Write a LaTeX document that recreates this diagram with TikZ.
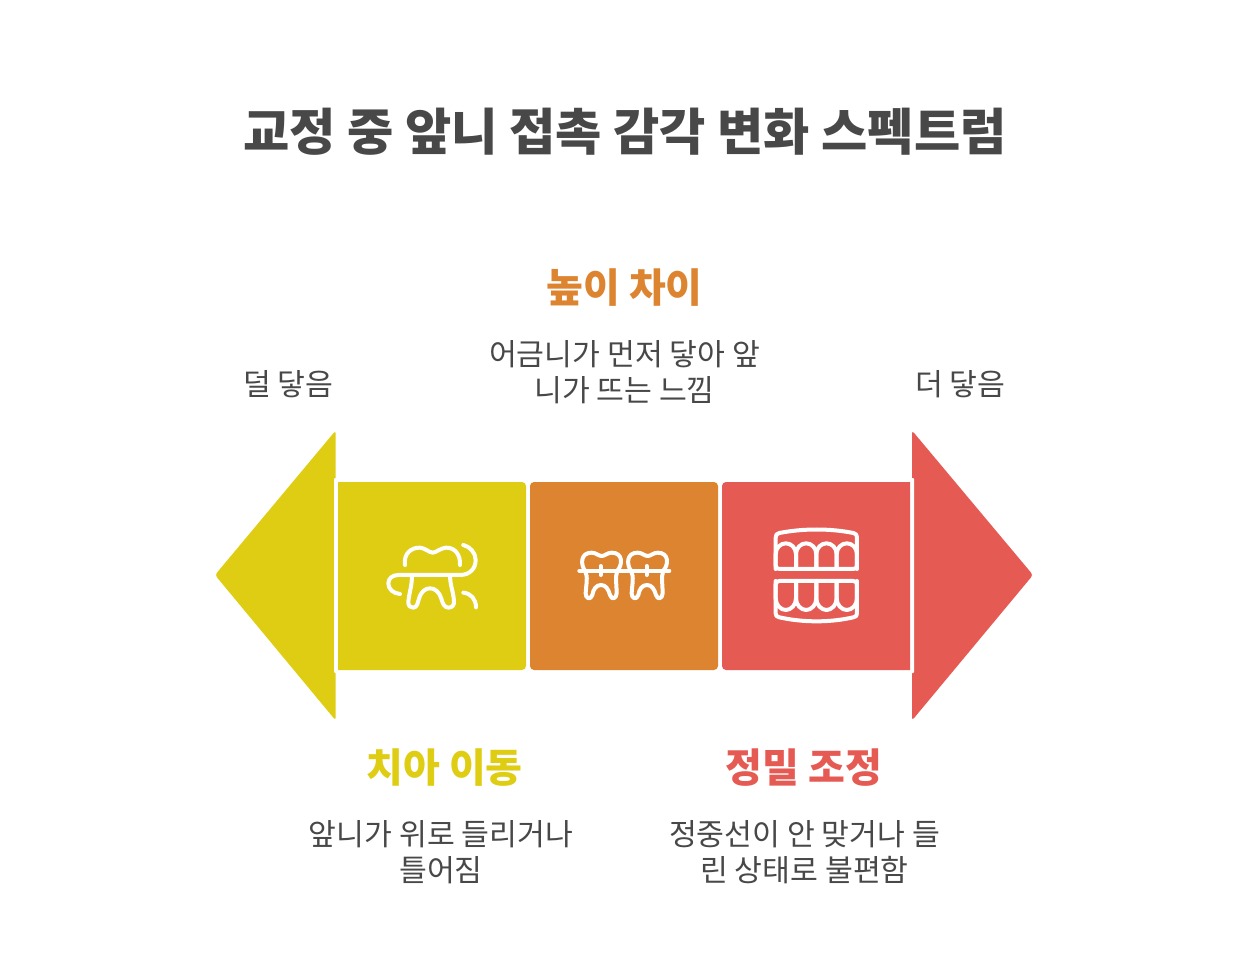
\documentclass[tikz,border=0pt]{standalone}
\usepackage{fontspec}
\setmainfont{Noto Sans CJK KR}
\usetikzlibrary{arrows}

\definecolor{inkgray}{HTML}{484848}
\definecolor{moveyellow}{HTML}{DFCD13}
\definecolor{heightorange}{HTML}{DD8430}
\definecolor{finered}{HTML}{E65A54}

\tikzset{
	headline/.style={text=inkgray, font=\fontsize{50.3}{60}\selectfont\bfseries},
	caption/.style={text=#1, font=\fontsize{40}{48}\selectfont\bfseries},
	remark/.style={text=inkgray, align=center, font=\fontsize{30.25}{36}\selectfont},
	iconline/.style={draw=white, line width=4pt, line cap=round, line join=round},
}

\begin{document}
\begin{tikzpicture}[x=1pt, y=-1pt]
		\useasboundingbox (0, 0) rectangle (1248, 957);

		\path[fill=moveyellow, rounded corners=3] (335.7, 430.5) -- (215, 575) -- (335.7, 720.5) -- cycle;
		\path[fill=finered, rounded corners=3] (912, 430.5) -- (1033, 575) -- (912, 720.5) -- cycle;
		\path[fill=white, rounded corners=1] (334, 478) rectangle (338, 673);
		\path[fill=white, rounded corners=1] (910, 478) rectangle (914, 673);

		\path[fill=moveyellow, rounded corners=4] (338, 482) [sharp corners] -- (338, 670) -- (440, 670) [rounded corners=4] -- (526, 670) -- (526, 482) -- (440, 482) [sharp corners] -- cycle;
		\path[fill=heightorange, rounded corners=4] (530, 482) rectangle (718, 670);
		\path[fill=finered, rounded corners=4] (816, 482) -- (722, 482) -- (722, 670) -- (816, 670) [sharp corners] -- (910, 670) -- (910, 482) -- cycle;

		\node[headline] (title) at (625, 131.5) {교정 중 앞니 접촉 감각 변화 스펙트럼};
		\node[caption=heightorange] (heighthead) at (624.5, 288) {높이 차이};
		\node[remark] (heighttext) at (624.5, 372) {어금니가 먼저 닿아 앞\\니가 뜨는 느낌};
		\node[remark] (lessend) at (288.5, 384) {덜 닿음};
		\node[remark] (moreend) at (960.5, 384) {더 닿음};
		\node[caption=moveyellow] (movehead) at (444.5, 768) {치아 이동};
		\node[remark] (movetext) at (441, 852) {앞니가 위로 들리거나\\틀어짐};
		\node[caption=finered] (finehead) at (804, 768) {정밀 조정};
		\node[remark] (finetext) at (804.5, 852) {정중선이 안 맞거나 들\\린 상태로 불편함};

		% tooth with floss
		\begin{scope}[shift={(370, 520)}, x=0.3333pt, y=-0.3333pt]
			\path[iconline] (105, 135) .. controls (100, 100) and (125, 82) .. (150, 83) .. controls (165, 84) and (178, 98) .. (188, 98) .. controls (198, 98) and (212, 84) .. (228, 83) .. controls (255, 82) and (272, 105) .. (270, 135);
			\path[iconline] (90, 222) .. controls (70, 220) and (55, 208) .. (55, 190) .. controls (55, 175) and (68, 165) .. (85, 165) -- (270, 165) .. controls (300, 165) and (317, 145) .. (317, 120) .. controls (317, 98) and (300, 80) .. (280, 75);
			\path[iconline] (125, 165) .. controls (128, 190) and (118, 215) .. (115, 245) .. controls (114, 258) and (122, 264) .. (130, 263) .. controls (142, 262) and (143, 248) .. (147, 236) .. controls (153, 215) and (166, 205) .. (180, 205) .. controls (195, 205) and (208, 216) .. (214, 236) .. controls (218, 250) and (222, 262) .. (235, 263) .. controls (247, 263) and (253, 255) .. (252, 243) .. controls (250, 215) and (240, 195) .. (240, 165);
			\path[iconline] (280, 218) .. controls (303, 220) and (318, 238) .. (318, 262);
		\end{scope}

		% two teeth with braces
		\begin{scope}[shift={(560, 530)}, x=0.3333pt, y=-0.3333pt]
			\foreach \toothshift in {0, 138} {
				\begin{scope}[xshift=\toothshift*0.3333pt]
					\path[iconline] (75, 122) .. controls (62, 105) and (60, 68) .. (95, 68) .. controls (108, 68) and (115, 78) .. (125, 78) .. controls (135, 78) and (142, 68) .. (155, 68) .. controls (190, 68) and (188, 105) .. (172, 122) .. controls (165, 140) and (170, 165) .. (170, 190) .. controls (170, 205) and (155, 212) .. (150, 195) .. controls (145, 178) and (138, 165) .. (123, 165) .. controls (108, 165) and (100, 178) .. (97, 195) .. controls (92, 212) and (76, 205) .. (77, 190) .. controls (78, 165) and (85, 140) .. (75, 122);
					\path[iconline] (122, 108) -- (122, 135);
				\end{scope}
			}
			\path[iconline] (58, 122) -- (328, 122);
		\end{scope}

		% upper and lower rows of teeth
		\begin{scope}[shift={(760, 515)}, x=0.3333pt, y=-0.3333pt]
			\path[iconline] (58, 162) .. controls (51, 162) and (47, 158) .. (47, 151) -- (47, 68) .. controls (47, 60) and (50, 55) .. (58, 54) .. controls (130, 40) and (210, 40) .. (280, 54) .. controls (288, 55) and (291, 60) .. (291, 68) -- (291, 151) .. controls (291, 158) and (287, 162) .. (280, 162) -- cycle;
			\path[iconline] (58, 198) .. controls (51, 198) and (47, 202) .. (47, 209) -- (47, 295) .. controls (47, 302) and (50, 306) .. (58, 307) .. controls (130, 323) and (210, 323) .. (280, 307) .. controls (288, 306) and (291, 302) .. (291, 295) -- (291, 209) .. controls (291, 202) and (287, 198) .. (280, 198) -- cycle;
			\foreach \archx in {47, 108, 169, 230} {
				\path[iconline] (\archx, 162) -- (\archx, 118) .. controls (\archx, 98) and (\archx+15, 85) .. (\archx+30.5, 85) .. controls (\archx+46, 85) and (\archx+61, 98) .. (\archx+61, 118) -- (\archx+61, 162);
				\path[iconline] (\archx, 198) -- (\archx, 250) .. controls (\archx, 270) and (\archx+15, 285) .. (\archx+30.5, 285) .. controls (\archx+46, 285) and (\archx+61, 270) .. (\archx+61, 250) -- (\archx+61, 198);
			}
		\end{scope}
	\end{tikzpicture}
\end{document}
